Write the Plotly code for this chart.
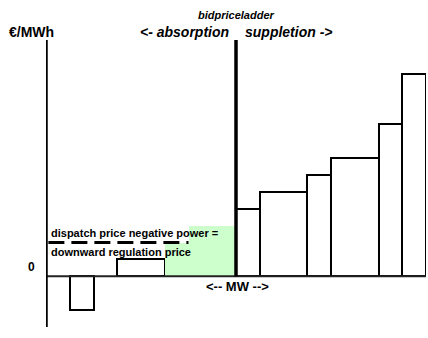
import plotly.graph_objects as go

# ---- data (schematic bid price ladder) ----
bid_from_mw = [1, 3, 5, 6, 7, 8, 9, 11, 12, 14, 15]
bid_to_mw = [2, 5, 6, 7, 8, 9, 11, 12, 14, 15, 16]
bid_price = [-2, 1, 2, 3, 3, 4, 5, 6, 7, 9, 12]
activated = [False, False, True, True, True, False, False, False, False, False, False]
dispatch_price = 2
split_mw = 8
axis_min_price = -3
axis_max_price = 14

centers = [(a + b) / 2 for a, b in zip(bid_from_mw, bid_to_mw)]
widths = [b - a for a, b in zip(bid_from_mw, bid_to_mw)]

fig = go.Figure()

idx_w = [i for i, a in enumerate(activated) if not a]
fig.add_trace(go.Bar(
    x=[centers[i] for i in idx_w], y=[bid_price[i] for i in idx_w],
    width=[widths[i] for i in idx_w], base=0,
    marker=dict(color="white", line=dict(color="black", width=2)),
    showlegend=False, hoverinfo="skip"))

idx_g = [i for i, a in enumerate(activated) if a]
fig.add_trace(go.Bar(
    x=[centers[i] for i in idx_g], y=[bid_price[i] for i in idx_g],
    width=[widths[i] for i in idx_g], base=0,
    marker=dict(color="#ccffcc", line=dict(color="#ccffcc", width=0)),
    showlegend=False, hoverinfo="skip"))

first_act = min(idx_g)
fig.add_trace(go.Scatter(
    x=[0.1, bid_to_mw[first_act]],
    y=[dispatch_price, dispatch_price], mode="lines",
    line=dict(color="black", width=3, dash="16px,7px"),
    showlegend=False, hoverinfo="skip"))

W, H = 428, 338
ML, MR, MT, MB = 46, 2, 40, 11

fig.update_layout(
    width=W, height=H,
    margin=dict(l=ML, r=MR, t=MT, b=MB),
    paper_bgcolor="white", plot_bgcolor="white",
    barmode="overlay", bargap=0,
    font=dict(family="Liberation Sans, Arial, sans-serif", color="black"),
    xaxis=dict(range=[0, 16], visible=False, fixedrange=True),
    yaxis=dict(range=[axis_min_price, axis_max_price], visible=False, fixedrange=True),
    shapes=[
        dict(type="line", xref="x", yref="y", x0=0, x1=16, y0=0, y1=0,
             line=dict(color="#222", width=2), layer="above"),
        dict(type="line", xref="x", yref="y", x0=0, x1=0,
             y0=axis_min_price, y1=axis_max_price,
             line=dict(color="black", width=3.5), layer="above"),
        dict(type="line", xref="x", yref="y", x0=split_mw, x1=split_mw,
             y0=0, y1=axis_max_price,
             line=dict(color="black", width=3.5), layer="above"),
    ],
)

def ann(text, px, py, size, xanchor="center", italic=False):
    x = (px - ML) / (W - ML - MR)
    y = (H - MB - py) / (H - MT - MB)
    fig.add_annotation(
        text=text, x=x, y=y, xref="paper", yref="paper", showarrow=False,
        xanchor=xanchor, yanchor="middle",
        font=dict(size=size, weight="bold", style="italic" if italic else "normal",
                  family="Liberation Sans, Arial, sans-serif", color="black"))

ann("€/MWh", 31, 32, 14)
ann("bidpriceladder", 236, 15, 11, italic=True)
ann("<- absorption", 231, 32, 14, xanchor="right", italic=True)
ann("suppletion ->", 243, 32, 14, xanchor="left", italic=True)
ann("0", 31.5, 267, 12)
ann("<-- MW -->", 237.5, 286, 13)
ann("dispatch price negative power =", 48.5, 233, 11, xanchor="left")
ann("downward regulation price", 48.5, 252, 11, xanchor="left")

fig.write_html("out.html", config={"displayModeBar": False},
               post_script="document.body.style.margin='0px';")
